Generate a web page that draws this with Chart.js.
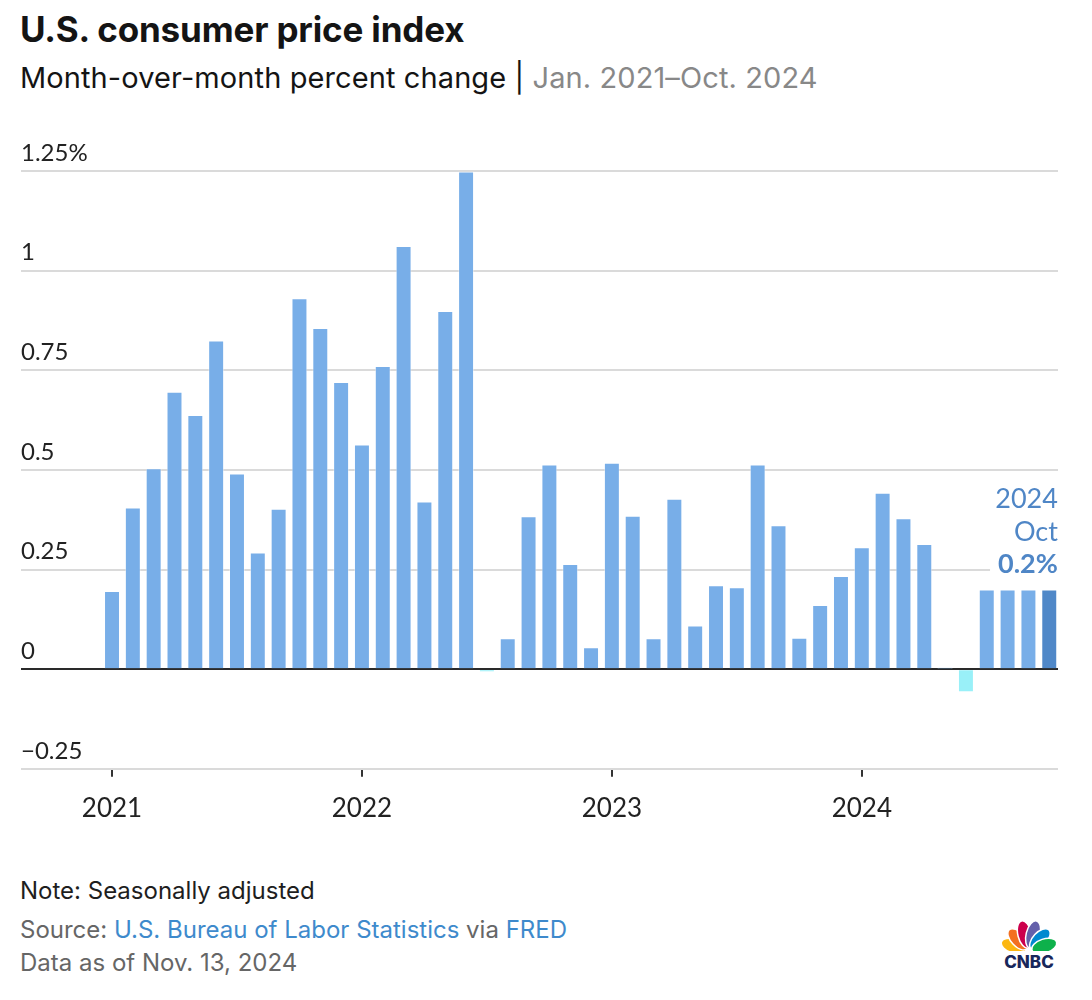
<!DOCTYPE html>
<html>
<head>
<meta charset="utf-8">
<script src="https://cdn.jsdelivr.net/npm/chart.js@4.4.1/dist/chart.umd.min.js"></script>
<style>
  body { margin:0; background:#fff; font-family: Inter, Lato, sans-serif; }
  #wrap { position:relative; width:1092px; height:1000px; overflow:hidden; }
  .t { position:absolute; left:20px; white-space:nowrap; line-height:1; }
  #title { top:12px; font-size:35px; font-weight:700; color:#141414; letter-spacing:-0.15px; }
  #sub { top:63px; font-size:29px; color:#141414; letter-spacing:0.1px; }
  #sub span { color:#888; }
  #note { top:879px; font-size:24px; color:#1e1e1e; }
  #src { top:918px; font-size:24px; color:#666; }
  #src a { color:#3e8acc; text-decoration:none; }
  #asof { top:951px; font-size:24px; color:#666; }
  #box { position:absolute; left:0; top:120px; width:1092px; height:720px; }
  #logo { position:absolute; left:997px; top:914px; }
</style>
</head>
<body>
<div id="wrap">
  <div class="t" id="title">U.S. consumer price index</div>
  <div class="t" id="sub">Month-over-month percent change | <span>Jan. 2021–Oct. 2024</span></div>
  <div id="box"><canvas id="myChart"></canvas></div>
  <div class="t" id="note">Note: Seasonally adjusted</div>
  <div class="t" id="src">Source: <a>U.S. Bureau of Labor Statistics</a> via <a>FRED</a></div>
  <div class="t" id="asof">Data as of Nov. 13, 2024</div>
  <svg id="logo" width="64" height="62" viewBox="0 0 64 62">
    <g transform="translate(32,37)" stroke="#fff" stroke-width="1.5">
      <ellipse cx="0" cy="-16" rx="7" ry="13" fill="#fcb711" transform="rotate(-72)"/>
      <ellipse cx="0" cy="-16" rx="7" ry="13" fill="#f37021" transform="rotate(-43)"/>
      <ellipse cx="0" cy="-17" rx="7" ry="14" fill="#cc004c" transform="rotate(-14)"/>
      <ellipse cx="0" cy="-17" rx="7" ry="14" fill="#6460aa" transform="rotate(14)"/>
      <ellipse cx="0" cy="-16" rx="7" ry="13" fill="#0089d0" transform="rotate(43)"/>
      <ellipse cx="0" cy="-16" rx="7" ry="13" fill="#0db14b" transform="rotate(72)"/>
    </g>
    <rect x="0" y="37" width="64" height="25" fill="#fff"/>
    <text x="32" y="54" text-anchor="middle" font-family="Inter, sans-serif" font-weight="800" font-size="17" fill="#18275a">CNBC</text>
  </svg>
</div>
<script>
// months Jan 2021 .. Oct 2024
var months = [
  "Jan 2021","Feb 2021","Mar 2021","Apr 2021","May 2021","Jun 2021","Jul 2021","Aug 2021","Sep 2021","Oct 2021","Nov 2021","Dec 2021",
  "Jan 2022","Feb 2022","Mar 2022","Apr 2022","May 2022","Jun 2022","Jul 2022","Aug 2022","Sep 2022","Oct 2022","Nov 2022","Dec 2022",
  "Jan 2023","Feb 2023","Mar 2023","Apr 2023","May 2023","Jun 2023","Jul 2023","Aug 2023","Sep 2023","Oct 2023","Nov 2023","Dec 2023",
  "Jan 2024","Feb 2024","Mar 2024","Apr 2024","May 2024","Jun 2024","Jul 2024","Aug 2024","Sep 2024","Oct 2024"
];
// percent change, month over month
var cpiChange = [
  0.195, 0.405, 0.503, 0.695, 0.637, 0.824, 0.490, 0.292, 0.402, 0.930, 0.855, 0.720,
  0.563, 0.760, 1.061, 0.420, 0.898, 1.248, -0.006, 0.077, 0.383, 0.513, 0.263, 0.054,
  0.517, 0.384, 0.077, 0.427, 0.109, 0.210, 0.205, 0.513, 0.360, 0.078, 0.160, 0.233,
  0.305, 0.442, 0.378, 0.313, 0.003, -0.057, 0.199, 0.199, 0.199, 0.199
];
var yTicks = [-0.25, 0, 0.25, 0.5, 0.75, 1, 1.25];
var yTickLabels = ["\u22120.25", "0", "0.25", "0.5", "0.75", "1", "1.25%"];
var xTickIndex = [0, 12, 24, 36];
var xTickLabels = ["2021", "2022", "2023", "2024"];
var calloutLines = ["2024", "Oct", "0.2%"];

var lastIdx = months.length - 1;
var points = [];
for (var i = 0; i < months.length; i++) points.push({x: i, y: cpiChange[i]});

function barColor(ctx) {
  var v = cpiChange[ctx.dataIndex];
  if (ctx.dataIndex === lastIdx) return '#5088c8';
  if (v < 0) return '#99f0f8';
  return '#78aee8';
}

// label over the last bar
var callout = {
  id: 'callout',
  afterDatasetsDraw: function(chart) {
    var bar = chart.getDatasetMeta(0).data[lastIdx];
    var c = chart.ctx;
    var right = bar.x + bar.width / 2 + 1;
    var top = bar.y;
    c.save();
    c.textAlign = 'right';
    c.textBaseline = 'middle';
    c.font = 'bold 27px Lato';
    var w = c.measureText(calloutLines[2]).width;
    c.fillStyle = '#fff';
    c.fillRect(right - w - 8, top - 41, w + 8, 28);
    c.fillStyle = '#4f86c6';
    c.font = '27px Lato';
    c.fillText(calloutLines[0], right, top - 91);
    c.fillText(calloutLines[1], right, top - 58);
    c.font = 'bold 27px Lato';
    c.fillText(calloutLines[2], right, top - 26);
    c.restore();
  }
};

var chart = new Chart(document.getElementById('myChart'), {
  type: 'bar',
  data: {
    datasets: [{
      data: points,
      backgroundColor: barColor,
      borderColor: 'rgba(255,255,255,0.35)',
      borderWidth: 1,
      barThickness: 15.3
    }]
  },
  options: {
    responsive: true,
    maintainAspectRatio: false,
    animation: false,
    layout: { padding: { left: 21, right: 34, top: 51, bottom: 0 } },
    plugins: { legend: { display: false }, tooltip: { enabled: false } },
    scales: {
      x: {
        type: 'linear',
        min: -4.37,
        max: 45.42,
        offset: false,
        afterBuildTicks: function(scale) {
          scale.ticks = xTickIndex.map(function(v) { return {value: v}; });
        },
        ticks: {
          autoSkip: false,
          maxRotation: 0,
          padding: 16,
          color: '#222',
          font: { family: 'Lato', size: 26 },
          callback: function(v, idx) { return xTickLabels[idx]; }
        },
        grid: { offset: false, drawOnChartArea: false, tickLength: 8, color: '#333', lineWidth: 2 },
        border: { display: false }
      },
      y: {
        min: -0.25,
        max: 1.25,
        afterBuildTicks: function(scale) {
          scale.ticks = yTicks.map(function(v) { return {value: v}; });
        },
        ticks: {
          mirror: true,
          padding: 0,
          labelOffset: -18,
          color: '#222',
          font: { family: 'Lato', size: 24 },
          callback: function(v, idx) { return yTickLabels[idx]; }
        },
        grid: {
          drawTicks: false,
          lineWidth: 2,
          color: function(ctx) { return ctx.tick && ctx.tick.value === 0 ? '#2a2a2a' : '#dadada'; }
        },
        border: { display: false }
      }
    }
  },
  plugins: [callout]
});
</script>
</body>
</html>
